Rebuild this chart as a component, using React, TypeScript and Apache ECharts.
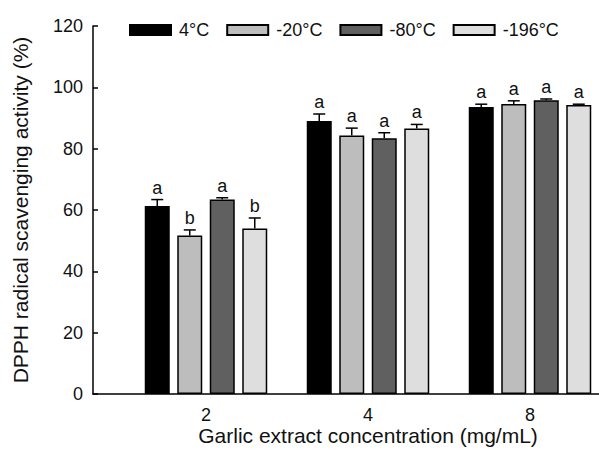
import React, { useEffect, useRef } from "react";
import * as echarts from "echarts";

const categories = ["2", "4", "8"];
const seriesNames = ["4°C", "-20°C", "-80°C", "-196°C"];
const colors = ["#000000", "#bdbdbd", "#606060", "#dedede"];
const values4 = [61.3, 89.0, 93.6];
const values20 = [51.7, 84.3, 94.6];
const values80 = [63.4, 83.4, 95.8];
const values196 = [54.0, 86.6, 94.2];
const err4 = [2.1, 2.3, 0.9];
const err20 = [1.8, 2.4, 1.0];
const err80 = [0.6, 1.8, 0.4];
const err196 = [3.4, 1.3, 0.3];
const letters4 = ["a", "a", "a"];
const letters20 = ["b", "a", "a"];
const letters80 = ["a", "a", "a"];
const letters196 = ["b", "a", "a"];
const yTicks = { min: 0, max: 120, interval: 20 };

const allValues = [values4, values20, values80, values196];
const allErr = [err4, err20, err80, err196];
const allLetters = [letters4, letters20, letters80, letters196];

const FONT = '"Liberation Sans", Arial, sans-serif';
const BAR_W = 25;
const BAR_GAP = 7.5;

export default function App() {
  const ref = useRef<HTMLDivElement>(null);
  useEffect(() => {
    if (!ref.current) return;
    const chart = echarts.init(ref.current, null, { renderer: "svg" });
    const barSeries = seriesNames.map((name, i) => ({
      name,
      type: "bar",
      xAxisIndex: 1,
      yAxisIndex: 1,
      barWidth: BAR_W,
      barGap: (BAR_GAP / BAR_W) * 100 + "%",
      data: allValues[i],
      itemStyle: { color: colors[i], borderColor: "#000", borderWidth: 1.5 },
      z: 2,
    }));
    const errSeries = seriesNames.map((name, i) => ({
      name: name + " err",
      type: "custom",
      xAxisIndex: 1,
      yAxisIndex: 1,
      z: 3,
      data: allValues[i].map((v, j) => [j, v, allErr[i][j]]),
      renderItem: (params: any, api: any) => {
        const cat = api.value(0);
        const val = api.value(1);
        const err = api.value(2);
        const base = api.coord([cat, val]);
        const top = api.coord([cat, val + err]);
        const x = base[0] + (i - 1.5) * (BAR_W + BAR_GAP);
        const letter = allLetters[i][params.dataIndex];
        return {
          type: "group",
          children: [
            { type: "line", shape: { x1: x, y1: base[1], x2: x, y2: top[1] }, style: { stroke: "#000", lineWidth: 1.5 } },
            { type: "line", shape: { x1: x - 6, y1: top[1], x2: x + 6, y2: top[1] }, style: { stroke: "#000", lineWidth: 1.5 } },
            {
              type: "text",
              x,
              y: top[1] - 3,
              style: { text: letter, fill: "#111", font: `18px ${FONT}`, align: "center", verticalAlign: "bottom" },
            },
          ],
        };
      },
    }));
    chart.setOption({
      animation: false,
      backgroundColor: "#ffffff",
      legend: {
        data: seriesNames,
        left: 124,
        top: 16,
        itemWidth: 41,
        itemHeight: 10,
        itemGap: 17,
        icon: "rect",
        textStyle: { fontSize: 18, fontFamily: FONT, color: "#111", padding: [0, 0, 0, 3] },
      },
      grid: [
        { left: 93, width: 506, top: 26, bottom: 58, outerBoundsMode: "none" },
        { left: 125, width: 486, top: 26, bottom: 58, outerBoundsMode: "none" },
      ],
      xAxis: [
        {
          type: "value",
          gridIndex: 0,
          min: 0,
          max: 1,
          axisLine: { show: true, lineStyle: { color: "#000", width: 1.5 } },
          axisTick: { show: false },
          axisLabel: { show: false },
          splitLine: { show: false },
        },
        {
          type: "category",
          gridIndex: 1,
          data: categories,
          axisLine: { show: false },
          axisTick: { show: false },
          axisLabel: { fontSize: 18, fontFamily: FONT, color: "#111", margin: 12 },
          name: "Garlic extract concentration (mg/mL)",
          nameLocation: "middle",
          nameGap: 31,
          nameMoveOverlap: false,
          nameTextStyle: { fontSize: 21, fontFamily: FONT, color: "#111" },
        },
      ],
      yAxis: [
        {
          type: "value",
          gridIndex: 0,
          min: yTicks.min,
          max: yTicks.max,
          interval: yTicks.interval,
          axisLine: { show: true, lineStyle: { color: "#000", width: 1.5 } },
          axisTick: { show: true, inside: true, length: 5, lineStyle: { color: "#000", width: 1.5 } },
          axisLabel: { fontSize: 18, fontFamily: FONT, color: "#111", margin: 10 },
          splitLine: { show: false },
          name: "DPPH radical scavenging activity (%)",
          nameLocation: "middle",
          nameGap: 62,
          nameMoveOverlap: false,
          nameTextStyle: { fontSize: 21, fontFamily: FONT, color: "#111" },
        },
        {
          type: "value",
          gridIndex: 1,
          min: yTicks.min,
          max: yTicks.max,
          interval: yTicks.interval,
          show: false,
          splitLine: { show: false },
        },
      ],
      series: [...barSeries, ...errSeries],
    });
    return () => chart.dispose();
  }, []);
  return (
    <div
      ref={ref}
      style={{ position: "absolute", left: 0, top: 0, width: 599, height: 452 }}
    />
  );
}
